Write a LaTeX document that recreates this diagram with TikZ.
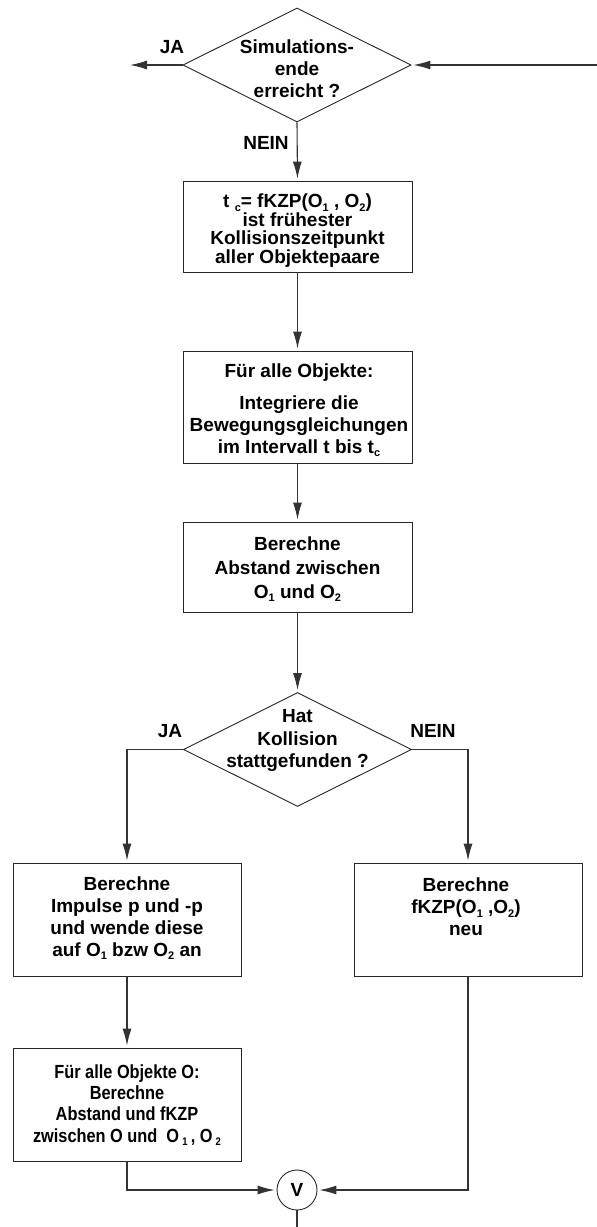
\documentclass[tikz,border=0pt]{standalone}
\usepackage{fontspec}
\setmainfont{Liberation Sans}
\newfontfamily\condensedfont{Liberation Sans}[FakeStretch=0.86]
\usetikzlibrary{shapes.geometric,arrows.meta}

% small lowered index such as the 1 in O_1
\newcommand\idx[1]{\raisebox{-0.35ex}{\fontsize{11}{11}\selectfont #1}}

\begin{document}
\begin{tikzpicture}[x=1pt,y=-1pt,
  txt/.style={align=center, inner sep=0pt, font=\bfseries\fontsize{19}{22}\selectfont},
  stepbox/.style={draw=black!85, line width=0.9pt, rectangle, inner sep=0pt},
  decision/.style={draw=black!85, line width=0.9pt, diamond, inner sep=0pt,
                   minimum width=228pt, minimum height=114pt},
  junction/.style={draw=black!85, line width=0.9pt, circle, inner sep=0pt,
                   minimum size=40pt, font=\bfseries\fontsize{19}{22}\selectfont},
  flow/.style={draw=black!80, line width=1.1pt, shorten >=2pt,
               -{Latex[length=17pt,width=9pt]}},
  plain/.style={draw=black!80, line width=1.1pt}]

\useasboundingbox (0,0) rectangle (597,1227);

% ---- shapes ----
\node[decision] (d1) at (297,65) {};
\node[stepbox, minimum width=229pt, minimum height=91pt]  (b1) at (297.5,226.5) {};
\node[stepbox, minimum width=229pt, minimum height=112pt] (b2) at (297.5,407) {};
\node[stepbox, minimum width=229pt, minimum height=90pt]  (b3) at (297.5,567) {};
\node[decision] (d2) at (297.5,749.5) {};
\node[stepbox, minimum width=228pt, minimum height=113pt] (b4) at (127,919.5) {};
\node[stepbox, minimum width=228pt, minimum height=113pt] (b5) at (468,919.5) {};
\node[stepbox, minimum width=228pt, minimum height=113pt] (b6) at (127,1104.5) {};
\node[junction] (v) at (297,1190) {V};

% ---- texts ----
\node[txt] (t-d1) at (297,68.5) {Simulations-\\ende\\erreicht ?};
\node[txt] (ja1) at (172,47) {JA};
\node[txt] (nein1) at (266,143) {NEIN};
\node[txt, font=\bfseries\fontsize{19}{18.5}\selectfont] (t-b1) at (297.5,230.5)
  {t \idx{c}= fKZP(O\idx{1} , O\idx{2})\\ist frühester\\Kollisionszeitpunkt\\aller Objektepaare};
\node[txt] (t-b2) at (299,410)
  {Für alle Objekte:\\[10pt]Integriere die\\Bewegungsgleichungen\\im Intervall t bis t\idx{c}};
\node[txt, font=\bfseries\fontsize{19}{24}\selectfont] (t-b3) at (297.5,569)
  {Berechne\\Abstand zwischen\\O\idx{1} und O\idx{2}};
\node[txt, font=\bfseries\fontsize{19}{22.5}\selectfont] (t-d2) at (297.5,740.5)
  {Hat\\Kollision\\stattgefunden ?};
\node[txt] (ja2) at (170,731) {JA};
\node[txt] (nein2) at (433,731) {NEIN};
\node[txt] (t-b4) at (127,918)
  {Berechne\\Impulse p und -p\\und wende diese\\auf O\idx{1} bzw O\idx{2} an};
\node[txt] (t-b5) at (466,907)
  {Berechne\\fKZP(O\idx{1} ,O\idx{2})\\neu};
\node[txt, font=\condensedfont\bfseries\fontsize{19}{21.3}\selectfont] (t-b6) at (127,1105)
  {Für alle Objekte O:\\Berechne\\Abstand und fKZP\\zwischen O und~ O\,\idx{1}\,, O\,\idx{2}};

% ---- free ends ----
\coordinate (loopin) at (597,65);
\coordinate (exit) at (128,65);
\coordinate (out) at (297,1227);

% ---- connectors ----
\draw[flow] (loopin) -- (d1.east);
\draw[flow] (d1.west) -- (exit);
\draw[flow] (d1.south) -- (b1.north);
\draw[flow] (b1.south) -- (b2.north);
\draw[flow] (b2.south) -- (b3.north);
\draw[flow] (b3.south) -- (d2.north);
\draw[flow] (d2.west) -| (b4.north);
\draw[flow] (d2.east) -| (b5.north);
\draw[flow] (b4.south) -- (b6.north);
\draw[flow] (b6.south) |- (v.west);
\draw[flow] (b5.south) |- (v.east);
\draw[plain] (v.south) -- (out);

\end{tikzpicture}
\end{document}
